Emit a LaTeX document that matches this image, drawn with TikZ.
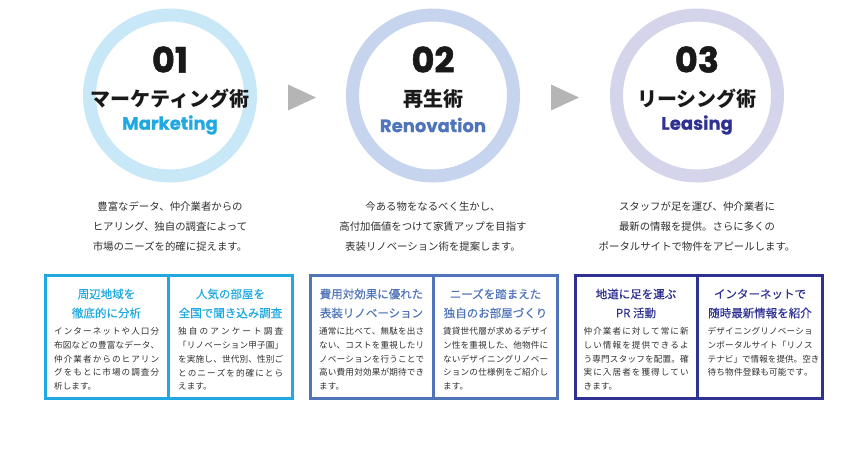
\documentclass[tikz,border=0pt]{standalone}
\usepackage{fontspec}
\setmainfont{Noto Sans CJK JP}
\newfontfamily\jp{Noto Sans CJK JP}
\newfontfamily\jpmed[FakeBold=0.35]{Noto Sans CJK JP}
\newfontfamily\lat{Poppins}
\newfontfamily\latheavy[FakeBold=1.4]{Poppins}
\newfontfamily\latbold[FakeBold=0.6]{Poppins}
\definecolor{ringA}{HTML}{C8E8F8}
\definecolor{ringB}{HTML}{C6D4EE}
\definecolor{ringC}{HTML}{D4D4EA}
\definecolor{blueA}{HTML}{20A9E1}
\definecolor{blueB}{HTML}{4F74B9}
\definecolor{blueC}{HTML}{2E3192}
\definecolor{txt}{HTML}{2E2E2E}
\definecolor{arrgray}{HTML}{B5B5B5}
\makeatletter
\def\sp@next#1{\ifx#1\relax\else\hskip 0pt plus 1fil\relax#1\expandafter\sp@next\fi}
\def\sp@first#1{#1\sp@next}
\newcommand\spreadto[2]{\makebox[#1][s]{\sp@first#2\relax}}
\makeatother
\newcommand\sline[1]{\spreadto{105pt}{#1}}
\begin{document}
\begin{tikzpicture}[x=1pt,y=-1pt,
  ringnode/.style={circle, draw=#1, line width=13pt, minimum size=161pt, inner sep=0pt},
  numtxt/.style={font=\latheavy\bfseries\fontsize{35}{35}\selectfont, text=black!90, inner sep=0pt},
  jtitle/.style={font=\jp\bfseries\fontsize{20}{20}\selectfont, text=black!90, inner sep=0pt},
  etitle/.style={font=\latbold\bfseries\fontsize{18}{18}\selectfont, text=#1, inner sep=0pt},
  desc/.style={font=\jp\fontsize{10.4}{12}\selectfont, text=txt, inner sep=0pt},
  btitle/.style={font=\jpmed\fontsize{11.5}{14}\selectfont, text=#1, inner sep=0pt},
  bbody/.style={font=\jp\fontsize{8.6}{10}\selectfont, text=txt, inner sep=0pt, anchor=west},
  grp/.style={draw=#1, line width=3pt},
  tri/.style={fill=arrgray, draw=none}]
\useasboundingbox (0,0) rectangle (867,451);

% circles
\node[ringnode=ringA] (c1) at (170,95.5) {};
\node[ringnode=ringB] (c2) at (433,95.5) {};
\node[ringnode=ringC] (c3) at (697,95.5) {};

\node[numtxt] (n1) at (170,59.5) {01};
\node[numtxt] (n2) at (433,59.5) {02};
\node[numtxt] (n3) at (697,59.5) {03};

\node[jtitle] (j1) at (170,99) {マーケティング術};
\node[jtitle] (j2) at (433,99) {再生術};
\node[jtitle] (j3) at (697,99) {リーシング術};

\node[etitle=blueA] (e1) at (170,125) {Marketing};
\node[etitle=blueB] (e2) at (433,125) {Renovation};
\node[etitle=blueC] (e3) at (697,125) {Leasing};

% arrows
\fill[tri] (288,84.5) -- (316,97.5) -- (288,110.5) -- cycle;
\fill[tri] (551,84.5) -- (579,97.5) -- (551,110.5) -- cycle;

% descriptions
\node[desc] (d1a) at (170,206.5) {豊富なデータ、仲介業者からの};
\node[desc] (d1b) at (170,226.5) {ヒアリング、独自の調査によって};
\node[desc] (d1c) at (170,246.5) {市場のニーズを的確に捉えます。};
\node[desc] (d2a) at (433,206.5) {今ある物をなるべく生かし、};
\node[desc] (d2b) at (433,226.5) {高付加価値をつけて家賃アップを目指す};
\node[desc] (d2c) at (433,246.5) {表装リノベーション術を提案します。};
\node[desc] (d3a) at (697,206.5) {スタッフが足を運び、仲介業者に};
\node[desc] (d3b) at (697,226.5) {最新の情報を提供。さらに多くの};
\node[desc] (d3c) at (697,246.5) {ポータルサイトで物件をアピールします。};

% boxes
\draw[grp=blueA] (45.5,275.5) rectangle (292.5,398.5);
\draw[grp=blueA] (168,275.5) -- (168,398.5);
\draw[grp=blueB] (310.5,275.5) rectangle (557.5,398.5);
\draw[grp=blueB] (433,275.5) -- (433,398.5);
\draw[grp=blueC] (575.5,275.5) rectangle (822.5,398.5);
\draw[grp=blueC] (697,275.5) -- (697,398.5);

% box 1 col 1
\node[btitle=blueA] (t11a) at (106.5,294) {周辺地域を};
\node[btitle=blueA] (t11b) at (106.5,313) {徹底的に分析};
\node[bbody] (b11a) at (54,331.5) {\sline{インターネットや人口分}};
\node[bbody] (b11b) at (54,345.2) {\sline{布図などの豊富なデータ、}};
\node[bbody] (b11c) at (54,359) {\sline{仲介業者からのヒアリン}};
\node[bbody] (b11d) at (54,372.7) {\sline{グをもとに市場の調査分}};
\node[bbody] (b11e) at (54,386.4) {析します。};
% box 1 col 2
\node[btitle=blueA] (t12a) at (230.5,294) {人気の部屋を};
\node[btitle=blueA] (t12b) at (230.5,313) {全国で聞き込み調査};
\node[bbody] (b12a) at (178,331.5) {\sline{独自のアンケート調査}};
\node[bbody] (b12b) at (178,345.2) {\sline{「リノベーション甲子園」}};
\node[bbody] (b12c) at (178,359) {\sline{を実施し、世代別、性別ご}};
\node[bbody] (b12d) at (178,372.7) {\sline{とのニーズを的確にとら}};
\node[bbody] (b12e) at (178,386.4) {えます。};
% box 2 col 1
\node[btitle=blueB] (t21a) at (371.5,294) {費用対効果に優れた};
\node[btitle=blueB] (t21b) at (371.5,313) {表装リノベーション};
\node[bbody] (b21a) at (319,331.5) {\sline{通常に比べて、無駄を出さ}};
\node[bbody] (b21b) at (319,345.2) {\sline{ない、コストを重視したリ}};
\node[bbody] (b21c) at (319,359) {\sline{ノベーションを行うことで}};
\node[bbody] (b21d) at (319,372.7) {\sline{高い費用対効果が期待でき}};
\node[bbody] (b21e) at (319,386.4) {ます。};
% box 2 col 2
\node[btitle=blueB] (t22a) at (495.5,294) {ニーズを踏まえた};
\node[btitle=blueB] (t22b) at (495.5,313) {独自のお部屋づくり};
\node[bbody] (b22a) at (443,331.5) {\sline{賃貸世代層が求めるデザイ}};
\node[bbody] (b22b) at (443,345.2) {\sline{ン性を重視した、他物件に}};
\node[bbody] (b22c) at (443,359) {\sline{ないデザイニングリノベー}};
\node[bbody] (b22d) at (443,372.7) {\sline{ションの仕様例をご紹介し}};
\node[bbody] (b22e) at (443,386.4) {ます。};
% box 3 col 1
\node[btitle=blueC] (t31a) at (636,294) {地道に足を運ぶ};
\node[btitle=blueC] (t31b) at (636,313) {PR 活動};
\node[bbody] (b31a) at (583.5,331.5) {\sline{仲介業者に対して常に新}};
\node[bbody] (b31b) at (583.5,345.2) {\sline{しい情報を提供できるよ}};
\node[bbody] (b31c) at (583.5,359) {\sline{う専門スタッフを配置。確}};
\node[bbody] (b31d) at (583.5,372.7) {\sline{実に入居者を獲得してい}};
\node[bbody] (b31e) at (583.5,386.4) {きます。};
% box 3 col 2
\node[btitle=blueC] (t32a) at (760,294) {インターネットで};
\node[btitle=blueC] (t32b) at (760,313) {随時最新情報を紹介};
\node[bbody] (b32a) at (707.5,331.5) {\sline{デザイニングリノベーショ}};
\node[bbody] (b32b) at (707.5,345.2) {\sline{ンポータルサイト「リノス}};
\node[bbody] (b32c) at (707.5,359) {\sline{テナビ」で情報を提供。空き}};
\node[bbody] (b32d) at (707.5,372.7) {\sline{待ち物件登録も可能です。}};
\end{tikzpicture}
\end{document}
